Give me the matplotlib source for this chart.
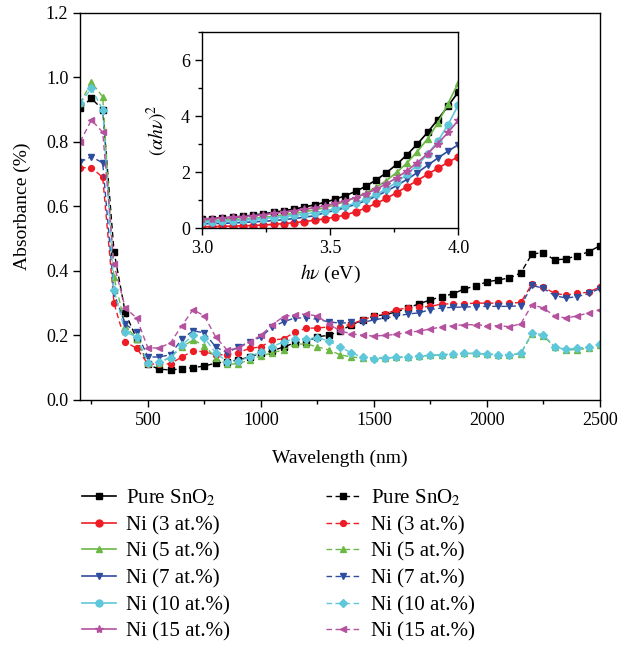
import matplotlib
matplotlib.use("Agg")
import matplotlib.pyplot as plt
from matplotlib.ticker import MultipleLocator

plt.rcParams["font.family"] = ["Liberation Serif", "DejaVu Serif"]
plt.rcParams["mathtext.fontset"] = "stix"
plt.rcParams["font.size"] = 13

# main plot: absorbance vs wavelength
wavelength = [200, 250, 300, 350, 400, 450, 500, 550, 600, 650, 700, 750, 800, 850, 900, 950,
              1000, 1050, 1100, 1150, 1200, 1250, 1300, 1350, 1400, 1450, 1500, 1550, 1600, 1650,
              1700, 1750, 1800, 1850, 1900, 1950, 2000, 2050, 2100, 2150, 2200, 2250, 2300, 2350,
              2400, 2450, 2500]
abs_pure = [0.905, 0.935, 0.90, 0.46, 0.27, 0.19, 0.11, 0.095, 0.093, 0.096, 0.10, 0.105, 0.114, 0.118,
            0.124, 0.133, 0.145, 0.152, 0.164, 0.177, 0.18, 0.196, 0.20, 0.214, 0.232, 0.248, 0.26,
            0.264, 0.273, 0.285, 0.298, 0.31, 0.32, 0.329, 0.344, 0.353, 0.366, 0.372, 0.378, 0.394,
            0.453, 0.456, 0.434, 0.437, 0.447, 0.459, 0.478]
abs_ni3 = [0.72, 0.72, 0.69, 0.30, 0.18, 0.16, 0.112, 0.11, 0.112, 0.133, 0.152, 0.149, 0.14, 0.14,
           0.146, 0.16, 0.164, 0.186, 0.189, 0.21, 0.222, 0.223, 0.226, 0.226, 0.235, 0.248, 0.26,
           0.266, 0.28, 0.285, 0.287, 0.29, 0.297, 0.298, 0.298, 0.30, 0.30, 0.30, 0.30, 0.302,
           0.36, 0.35, 0.33, 0.325, 0.33, 0.334, 0.35]
abs_ni5 = [0.92, 0.985, 0.94, 0.38, 0.23, 0.19, 0.115, 0.115, 0.133, 0.164, 0.186, 0.168, 0.13, 0.11,
           0.112, 0.124, 0.136, 0.146, 0.155, 0.172, 0.174, 0.164, 0.155, 0.14, 0.133, 0.13, 0.13,
           0.13, 0.132, 0.134, 0.136, 0.138, 0.14, 0.142, 0.144, 0.144, 0.142, 0.14, 0.14, 0.143,
           0.205, 0.198, 0.164, 0.155, 0.156, 0.16, 0.17]
abs_ni7 = [0.738, 0.754, 0.735, 0.33, 0.235, 0.21, 0.133, 0.133, 0.14, 0.189, 0.214, 0.208, 0.164, 0.146,
           0.164, 0.18, 0.195, 0.226, 0.242, 0.254, 0.254, 0.25, 0.242, 0.238, 0.24, 0.24, 0.248,
           0.254, 0.26, 0.266, 0.27, 0.28, 0.285, 0.287, 0.288, 0.289, 0.29, 0.29, 0.29, 0.292,
           0.355, 0.346, 0.323, 0.316, 0.32, 0.33, 0.345]
abs_ni10 = [0.92, 0.966, 0.90, 0.34, 0.21, 0.196, 0.115, 0.118, 0.13, 0.17, 0.20, 0.192, 0.146, 0.118,
            0.12, 0.133, 0.15, 0.165, 0.18, 0.19, 0.19, 0.193, 0.183, 0.164, 0.146, 0.132, 0.128,
            0.13, 0.132, 0.134, 0.136, 0.138, 0.14, 0.142, 0.144, 0.144, 0.142, 0.14, 0.14, 0.144,
            0.208, 0.202, 0.164, 0.157, 0.16, 0.165, 0.172]
abs_ni15 = [0.80, 0.868, 0.83, 0.42, 0.285, 0.254, 0.161, 0.161, 0.177, 0.23, 0.28, 0.26, 0.195, 0.155,
            0.16, 0.18, 0.20, 0.233, 0.258, 0.264, 0.266, 0.26, 0.236, 0.214, 0.205, 0.20, 0.198,
            0.20, 0.203, 0.21, 0.213, 0.22, 0.226, 0.23, 0.233, 0.233, 0.23, 0.23, 0.227, 0.236,
            0.295, 0.285, 0.26, 0.254, 0.26, 0.27, 0.28]

# inset: (alpha h nu)^2 vs photon energy
energy = [3.00, 3.04, 3.08, 3.12, 3.16, 3.20, 3.24, 3.28, 3.32, 3.36, 3.40, 3.44, 3.48,
          3.52, 3.56, 3.60, 3.64, 3.68, 3.72, 3.76, 3.80, 3.84, 3.88, 3.92, 3.96, 4.00]
tauc_pure = [0.32, 0.34, 0.36, 0.39, 0.42, 0.46, 0.51, 0.56, 0.62, 0.68, 0.75, 0.83, 0.92,
             1.03, 1.16, 1.31, 1.50, 1.72, 1.98, 2.28, 2.62, 3.00, 3.42, 3.88, 4.36, 4.87]
tauc_ni3 = [0.05, 0.05, 0.06, 0.07, 0.08, 0.09, 0.11, 0.13, 0.16, 0.19, 0.23, 0.28, 0.33,
            0.39, 0.47, 0.58, 0.72, 0.88, 1.06, 1.27, 1.48, 1.70, 1.92, 2.14, 2.35, 2.55]
tauc_ni5 = [0.26, 0.27, 0.28, 0.30, 0.32, 0.35, 0.38, 0.42, 0.47, 0.52, 0.58, 0.65, 0.73,
            0.83, 0.95, 1.09, 1.26, 1.46, 1.70, 1.99, 2.33, 2.73, 3.19, 3.75, 4.45, 5.20]
tauc_ni7 = [0.15, 0.16, 0.17, 0.18, 0.20, 0.22, 0.24, 0.27, 0.30, 0.34, 0.39, 0.44, 0.55,
            0.63, 0.73, 0.85, 0.98, 1.14, 1.32, 1.52, 1.74, 1.98, 2.24, 2.50, 2.75, 2.98]
tauc_ni10 = [0.22, 0.23, 0.24, 0.26, 0.28, 0.31, 0.34, 0.37, 0.41, 0.45, 0.50, 0.55, 0.61,
             0.69, 0.78, 0.89, 1.03, 1.20, 1.40, 1.64, 1.92, 2.25, 2.64, 3.10, 3.70, 4.40]
tauc_ni15 = [0.33, 0.34, 0.36, 0.38, 0.41, 0.44, 0.48, 0.52, 0.57, 0.62, 0.67, 0.73, 0.80,
             0.88, 0.98, 1.09, 1.23, 1.39, 1.58, 1.80, 2.05, 2.34, 2.66, 3.02, 3.42, 3.85]

labels = ["Pure SnO$_2$", "Ni (3 at.%)", "Ni (5 at.%)", "Ni (7 at.%)", "Ni (10 at.%)", "Ni (15 at.%)"]
colors = ["#000000", "#ee1c25", "#6cb845", "#2f4d9e", "#5ec7da", "#b5529f"]
inset_markers = ["s", "o", "^", "v", "o", "*"]
main_markers = ["s", "o", "^", "v", "D", "<"]

abs_series = [abs_pure, abs_ni3, abs_ni5, abs_ni7, abs_ni10, abs_ni15]
tauc_series = [tauc_pure, tauc_ni3, tauc_ni5, tauc_ni7, tauc_ni10, tauc_ni15]

fig = plt.figure(figsize=(6.21, 6.46), dpi=100)
ax = fig.add_axes([0.129, 0.381, 0.837, 0.599])
axin = fig.add_axes([0.325, 0.647, 0.413, 0.303])

handles = []
# inset curves (solid)
for y, c, m, lab in zip(tauc_series, colors, inset_markers, labels):
    ms = 6 if m == "*" else 5
    h, = axin.plot(energy, y, "-", color=c, marker=m, markersize=ms, lw=1.2, label=lab)
    handles.append(h)

# main curves (dashed)
for y, c, m, lab in zip(abs_series, colors, main_markers, labels):
    ms = 3.6 if m == "D" else 4.2
    h, = ax.plot(wavelength, y, "--", color=c, marker=m, markersize=ms, lw=1.0,
                 dashes=(4, 2.5), label=lab)
    handles.append(h)

ax.set_xlim(200, 2500)
ax.set_ylim(0, 1.2)
ax.xaxis.set_major_locator(MultipleLocator(500))
ax.xaxis.set_minor_locator(MultipleLocator(250))
ax.yaxis.set_major_locator(MultipleLocator(0.2))
ax.yaxis.set_major_formatter(plt.FormatStrFormatter("%.1f"))
ax.tick_params(direction="out", length=5, width=1)
ax.tick_params(which="minor", direction="out", length=3, width=1)
ax.set_xlabel("Wavelength (nm)", fontsize=14, labelpad=15)
ax.set_ylabel("Absorbance (%)", fontsize=14, labelpad=11)

axin.set_xlim(3.0, 4.0)
axin.set_ylim(0, 7)
axin.xaxis.set_major_locator(MultipleLocator(0.5))
axin.xaxis.set_minor_locator(MultipleLocator(0.25))
axin.yaxis.set_major_locator(MultipleLocator(2))
axin.yaxis.set_minor_locator(MultipleLocator(1))
axin.xaxis.set_major_formatter(plt.FormatStrFormatter("%.1f"))
axin.tick_params(direction="out", length=5, width=1)
axin.tick_params(which="minor", direction="out", length=3, width=1)
axin.set_xlabel(r"$h\nu$ (eV)", fontsize=14)
axin.set_ylabel(r"$(\alpha h\nu)^2$", fontsize=14, labelpad=8)

for a in (ax, axin):
    for s in a.spines.values():
        s.set_linewidth(1.0)

fig.legend(handles=handles, loc="upper left", bbox_to_anchor=(0.118, 0.258), ncol=2,
           frameon=False, fontsize=15, handlelength=1.65, labelspacing=0.34,
           columnspacing=4.6, handletextpad=0.5, borderaxespad=0)

fig.savefig("out.png", dpi=100)
